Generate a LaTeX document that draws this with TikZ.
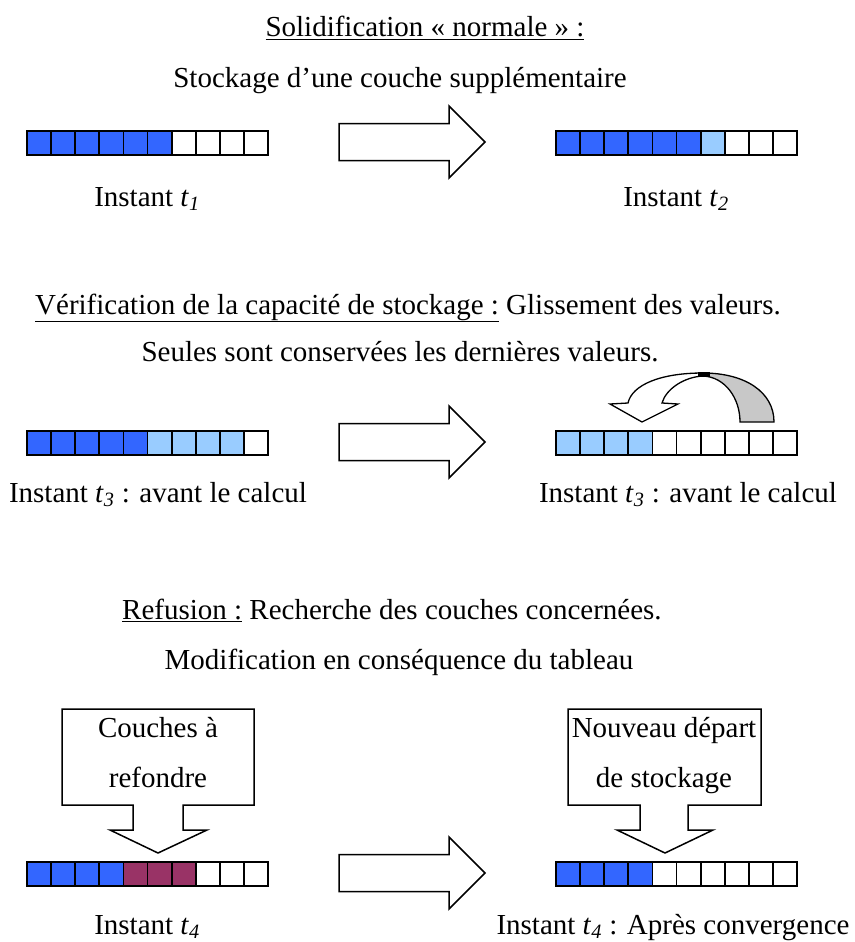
\documentclass[tikz,border=0pt]{standalone}
\usepackage{fontspec}
\setmainfont{Liberation Serif}
\definecolor{cblue}{HTML}{3366FF}
\definecolor{clight}{HTML}{99CCFF}
\definecolor{cmaroon}{HTML}{993366}
\definecolor{cgray}{HTML}{C8C8C8}
\newcommand{\tsub}[1]{\textit{t}\textsubscript{\textit{#1}}}
\begin{document}
\begin{tikzpicture}[x=1pt,y=-1pt,
  txt/.style={anchor=base,inner sep=0pt,font=\fontsize{29}{34}\selectfont},
  cellbox/.style={draw=black,line width=1.8pt},
  blockarrow/.style={draw=black,fill=white,line width=1.5pt,line join=miter},
  callout/.style={draw=black,fill=white,line width=1.5pt,line join=miter}]
\useasboundingbox (0,0) rectangle (854,942);
\fill[white] (0,0) rectangle (854,942);

% ---------- cells ----------
\newcommand{\cellrow}[3]{% x0, y0, list of 10 colours
  \foreach \c [count=\i from 0] in {#3} {
    \draw[cellbox,fill=\c] ({#1+\i*24.1},#2) rectangle ({#1+(\i+1)*24.1},{#2+24});
  }}
\cellrow{27}{131}{cblue,cblue,cblue,cblue,cblue,cblue,white,white,white,white}
\cellrow{556}{131}{cblue,cblue,cblue,cblue,cblue,cblue,clight,white,white,white}
\cellrow{27}{431}{cblue,cblue,cblue,cblue,cblue,clight,clight,clight,clight,white}
\cellrow{556}{431}{clight,clight,clight,clight,white,white,white,white,white,white}
\cellrow{27}{862}{cblue,cblue,cblue,cblue,cmaroon,cmaroon,cmaroon,white,white,white}
\cellrow{556}{862}{cblue,cblue,cblue,cblue,white,white,white,white,white,white}

% ---------- block arrows ----------
\newcommand{\bigarrow}[1]{% centre y
  \draw[blockarrow] (339,{#1-18.5}) -- (449,{#1-18.5}) -- (449,{#1-36}) -- (485,#1)
    -- (449,{#1+36}) -- (449,{#1+18.5}) -- (339,{#1+18.5}) -- cycle;}
\bigarrow{142}
\bigarrow{442}
\bigarrow{873}

% ---------- curved arrow ----------
\fill[cgray] (703,376) .. controls (725,377) and (740,398) .. (740,422) -- (774,422)
  .. controls (774,392) and (745,373) .. (703,373) -- cycle;
\draw[line width=1.3pt,line join=miter] (703,376) .. controls (725,377) and (740,398) .. (740,422) -- (774,422)
  .. controls (774,392) and (745,373) .. (703,373);
\draw[line width=1.3pt,fill=white,line join=miter] (703,373) .. controls (660,373) and (632,385) .. (628,403)
  -- (610,404) -- (642,422) -- (678,404) -- (662,403)
  .. controls (666,389) and (684,377) .. (703,376) -- cycle;
\fill (698,372) rectangle (710,377);

% ---------- callouts ----------
\draw[callout] (62,709) -- (254,709) -- (254,805) -- (183,805) -- (183,830) -- (207,830)
  -- (158,853) -- (110,830) -- (133,830) -- (133,805) -- (62,805) -- cycle;
\draw[callout] (568,709) -- (761,709) -- (761,805) -- (688,805) -- (688,830) -- (713,830)
  -- (665,853) -- (617,830) -- (640,830) -- (640,805) -- (568,805) -- cycle;
\node[txt] (ca1) at (158,737) {Couches à};
\node[txt] (ca2) at (158,787) {refondre};
\node[txt] (cb1) at (664,737) {Nouveau départ};
\node[txt] (cb2) at (664,787) {de stockage};

% ---------- texts ----------
\node[txt] (h1) at (425,37) {\underline{Solidification « normale » :}};
\node[txt] (s1) at (400,87) {Stockage d’une couche supplémentaire};
\node[txt] (l1) at (147,206) {Instant \tsub{1}};
\node[txt] (r1) at (676,206) {Instant \tsub{2}};

\node[txt,anchor=base west] (h2) at (35,314) {\underline{Vérification de la capacité de stockage :} Glissement des valeurs.};
\node[txt] (s2) at (400,361) {Seules sont conservées les dernières valeurs.};
\node[txt] (l2) at (158,502) {Instant \tsub{3} : avant le calcul};
\node[txt] (r2) at (688,502) {Instant \tsub{3} : avant le calcul};

\node[txt,anchor=base west] (h3) at (122,619) {\underline{Refusion :} Recherche des couches concernées.};
\node[txt] (s3) at (399,669) {Modification en conséquence du tableau};
\node[txt] (l3) at (147,934) {Instant \tsub{4}};
\node[txt] (r3) at (673,934) {Instant \tsub{4} : Après convergence};
\end{tikzpicture}
\end{document}
